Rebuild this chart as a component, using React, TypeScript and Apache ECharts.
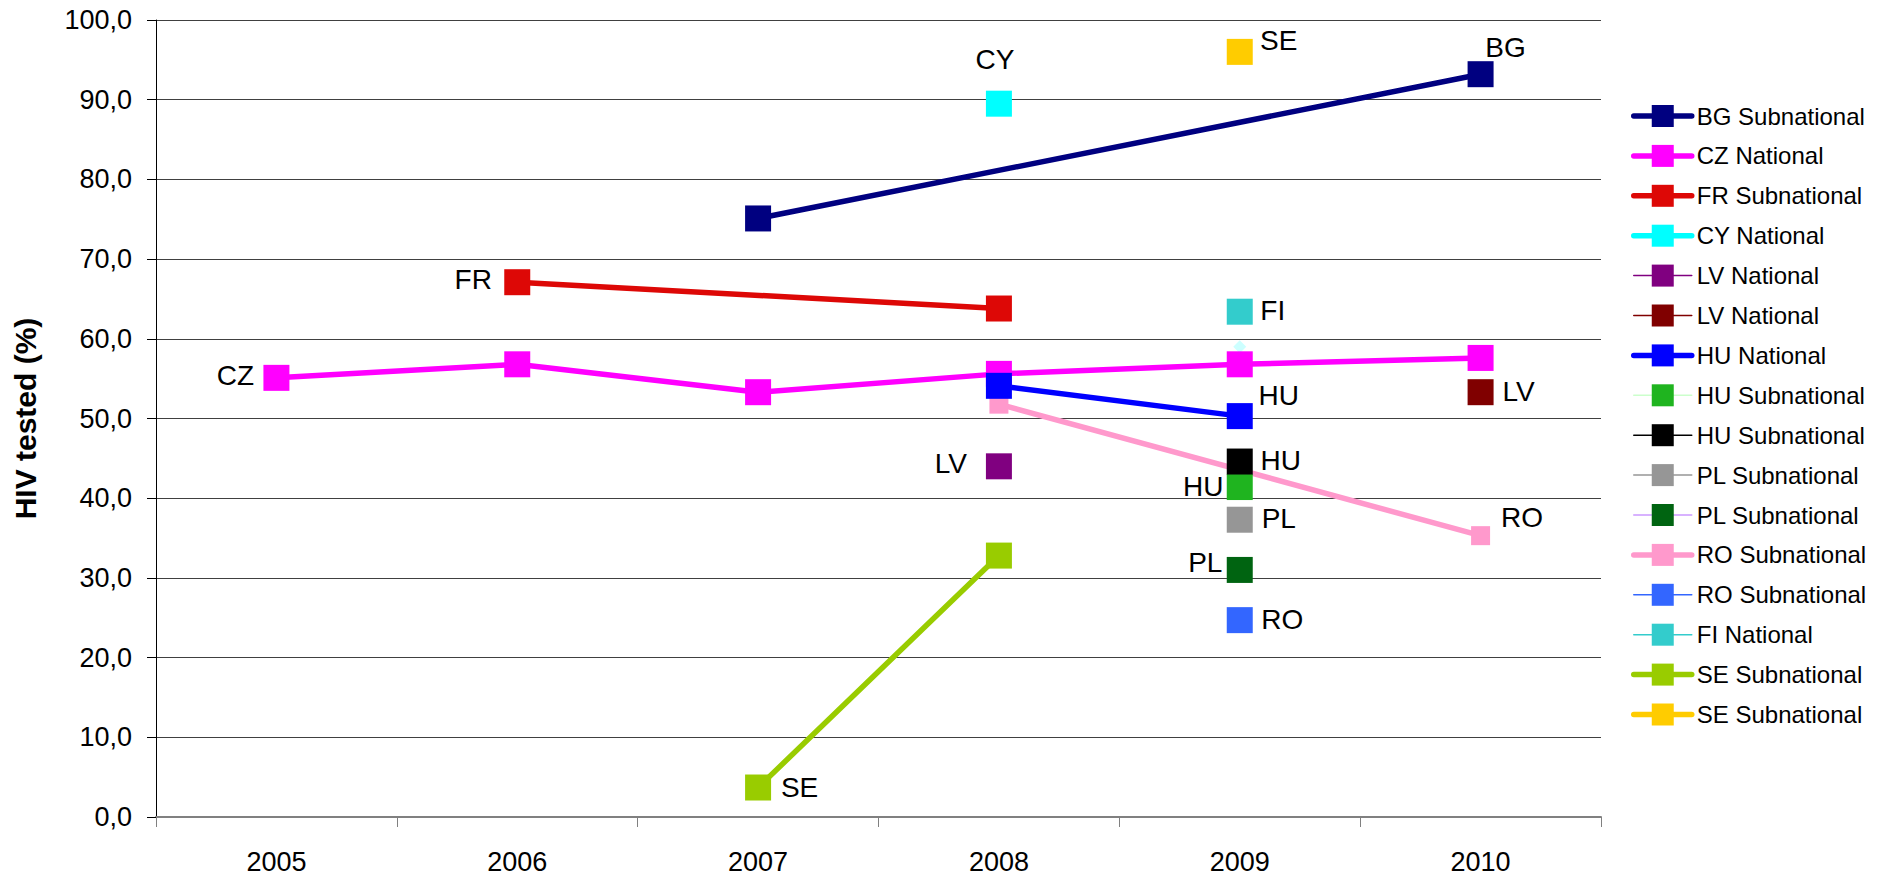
import React, { useEffect, useRef } from "react";
import * as echarts from "echarts";

const categories = ["2005", "2006", "2007", "2008", "2009", "2010"];

const bgSub = [null, null, 75.1, null, null, 93.2];
const czNat = [55.1, 56.8, 53.3, 55.6, 56.8, 57.6];
const frSub = [null, 67.1, null, 63.8, null, null];
const cyNat = [null, null, null, 89.5, null, null];
const lvNatA = [null, null, null, 44.0, null, null];
const lvNatB = [null, null, null, null, null, 53.3];
const huNat = [null, null, null, 54.1, 50.3, null];
const huSubA = [null, null, null, null, 41.4, null];
const huSubB = [null, null, null, null, 44.6, null];
const plSubA = [null, null, null, null, 37.3, null];
const plSubB = [null, null, null, null, 31.0, null];
const roSubA = [null, null, null, 51.8, null, 35.3];
const roSubB = [null, null, null, null, 24.7, null];
const fiNat = [null, null, null, null, 63.4, null];
const seSubA = [null, null, 3.7, 32.8, null, null];
const seSubB = [null, null, null, null, 96.0, null];
const extraPoint = [null, null, null, null, 59.0, null];

const FONT = "'Liberation Sans', Arial, sans-serif";

type LabelSpec = { i: number; text: string; dx: number; dy: number };

interface SeriesSpec {
  name: string;
  values: (number | null)[];
  color: string;
  lineColor: string;
  lineWidth: number;
  size: number;
  z: number;
  labels: LabelSpec[];
}

const THICK = 5.5;
const THIN = 1.5;

const seriesSpecs: SeriesSpec[] = [
  { name: "BG Subnational", values: bgSub, color: "#000080", lineColor: "#000080", lineWidth: THICK, size: 26, z: 2, labels: [{ i: 5, text: "BG", dx: 25, dy: -27 }] },
  { name: "CZ National", values: czNat, color: "#FF00FF", lineColor: "#FF00FF", lineWidth: THICK, size: 26, z: 2, labels: [{ i: 0, text: "CZ", dx: -41, dy: -2.5 }] },
  { name: "FR Subnational", values: frSub, color: "#DD0806", lineColor: "#DD0806", lineWidth: THICK, size: 26, z: 2, labels: [{ i: 1, text: "FR", dx: -44, dy: -2.5 }] },
  { name: "CY National", values: cyNat, color: "#00FFFF", lineColor: "#00FFFF", lineWidth: THICK, size: 26, z: 2, labels: [{ i: 3, text: "CY", dx: -4, dy: -44 }] },
  { name: "LV National", values: lvNatA, color: "#800080", lineColor: "#800080", lineWidth: THIN, size: 26, z: 2, labels: [{ i: 3, text: "LV", dx: -48, dy: -3 }] },
  { name: "LV National ", values: lvNatB, color: "#800000", lineColor: "#800000", lineWidth: THIN, size: 26, z: 2, labels: [{ i: 5, text: "LV", dx: 38, dy: -1 }] },
  { name: "HU National", values: huNat, color: "#0000FF", lineColor: "#0000FF", lineWidth: THICK, size: 26, z: 2, labels: [{ i: 4, text: "HU", dx: 39, dy: -21 }] },
  { name: "HU Subnational", values: huSubA, color: "#1FB41F", lineColor: "#CCFFCC", lineWidth: THIN, size: 26, z: 2, labels: [{ i: 4, text: "HU", dx: -36.5, dy: -0.5 }] },
  { name: "HU Subnational ", values: huSubB, color: "#000000", lineColor: "#000000", lineWidth: THIN, size: 26, z: 2, labels: [{ i: 4, text: "HU", dx: 41, dy: -1 }] },
  { name: "PL Subnational", values: plSubA, color: "#969696", lineColor: "#969696", lineWidth: THIN, size: 26, z: 2, labels: [{ i: 4, text: "PL", dx: 39, dy: -1 }] },
  { name: "PL Subnational ", values: plSubB, color: "#006411", lineColor: "#CC99FF", lineWidth: THIN, size: 26, z: 2, labels: [{ i: 4, text: "PL", dx: -34.5, dy: -7 }] },
  { name: "RO Subnational", values: roSubA, color: "#FF99CC", lineColor: "#FF99CC", lineWidth: THICK, size: 19, z: 1, labels: [{ i: 5, text: "RO", dx: 41.5, dy: -18 }] },
  { name: "RO Subnational ", values: roSubB, color: "#3366FF", lineColor: "#3366FF", lineWidth: THIN, size: 26, z: 2, labels: [{ i: 4, text: "RO", dx: 42.5, dy: -1 }] },
  { name: "FI National", values: fiNat, color: "#33CCCC", lineColor: "#33CCCC", lineWidth: THIN, size: 26, z: 2, labels: [{ i: 4, text: "FI", dx: 33, dy: -1 }] },
  { name: "SE Subnational", values: seSubA, color: "#99CC00", lineColor: "#99CC00", lineWidth: THICK, size: 26, z: 2, labels: [{ i: 2, text: "SE", dx: 41.5, dy: 0 }] },
  { name: "SE Subnational ", values: seSubB, color: "#FFCC00", lineColor: "#FFCC00", lineWidth: THICK, size: 26, z: 2, labels: [{ i: 4, text: "SE", dx: 39, dy: -11 }] },
];

function buildData(spec: SeriesSpec) {
  return spec.values.map((v, i) => {
    if (v == null) return null;
    const lab = spec.labels.find((l) => l.i === i);
    if (!lab) return v;
    return {
      value: v,
      label: {
        show: true,
        position: "inside",
        offset: [lab.dx, lab.dy],
        formatter: lab.text,
        color: "#000",
        fontSize: 28,
        fontFamily: FONT,
        textBorderWidth: 0,
        align: "center",
        verticalAlign: "middle",
      },
    };
  });
}

export default function App() {
  const ref = useRef<HTMLDivElement>(null);

  useEffect(() => {
    if (!ref.current) return;
    const chart = echarts.init(ref.current, null, { renderer: "svg" });

    const series: any[] = [
      {
        name: "extra",
        type: "line",
        data: extraPoint,
        symbol: "diamond",
        symbolSize: 13,
        itemStyle: { color: "#CCFFFF", borderWidth: 0 },
        lineStyle: { width: 0 },
        z: 1,
        silent: true,
      },
      ...seriesSpecs.map((s) => ({
        name: s.name,
        type: "line",
        data: buildData(s),
        connectNulls: true,
        symbol: "rect",
        symbolSize: s.size,
        showAllSymbol: true,
        itemStyle: { color: s.color, borderWidth: 0 },
        lineStyle: { color: s.lineColor, width: s.lineWidth, cap: "round" },
        z: s.z,
        emphasis: { disabled: true },
      })),
    ];

    chart.setOption({
      animation: false,
      backgroundColor: "#ffffff",
      grid: { left: 156, right: 284, top: 20, bottom: 61, containLabel: false },
      legend: {
        data: seriesSpecs.map((s) => s.name),
        orient: "vertical",
        left: 1631,
        top: 104,
        padding: 0,
        itemWidth: 58,
        itemHeight: 27.5,
        itemGap: 15.9,
        selectedMode: false,
        lineStyle: { width: "inherit", cap: "round" },
        itemStyle: { borderWidth: 0 },
        formatter: (name: string) => name.trim(),
        textStyle: { fontSize: 24, color: "#000", fontFamily: FONT, padding: [0, 0, 0, 0] },
      },
      xAxis: {
        type: "category",
        data: categories,
        boundaryGap: true,
        axisLine: { show: true, lineStyle: { color: "#808080", width: 2 } },
        axisTick: { show: true, alignWithLabel: false, length: 10, lineStyle: { color: "#808080", width: 1 } },
        axisLabel: { fontSize: 27, color: "#000", fontFamily: FONT, margin: 31 },
        splitLine: { show: false },
      },
      yAxis: {
        type: "value",
        min: 0,
        max: 100,
        interval: 10,
        name: "HIV tested (%)",
        nameLocation: "middle",
        nameGap: 116,
        nameTextStyle: { fontSize: 30, fontWeight: "bold", color: "#000", fontFamily: FONT },
        axisLine: { show: true, lineStyle: { color: "#000", width: 1 } },
        axisTick: { show: true, length: 9, lineStyle: { color: "#000", width: 1 } },
        axisLabel: {
          fontSize: 27,
          color: "#000",
          fontFamily: FONT,
          margin: 24,
          formatter: (v: number) => v.toFixed(1).replace(".", ","),
        },
        splitLine: { show: true, lineStyle: { color: "#404040", width: 1 } },
      },
      series,
    });

    return () => chart.dispose();
  }, []);

  return (
    <div
      ref={ref}
      style={{ position: "fixed", left: 0, top: 0, width: 1885, height: 878, background: "#fff" }}
    />
  );
}
